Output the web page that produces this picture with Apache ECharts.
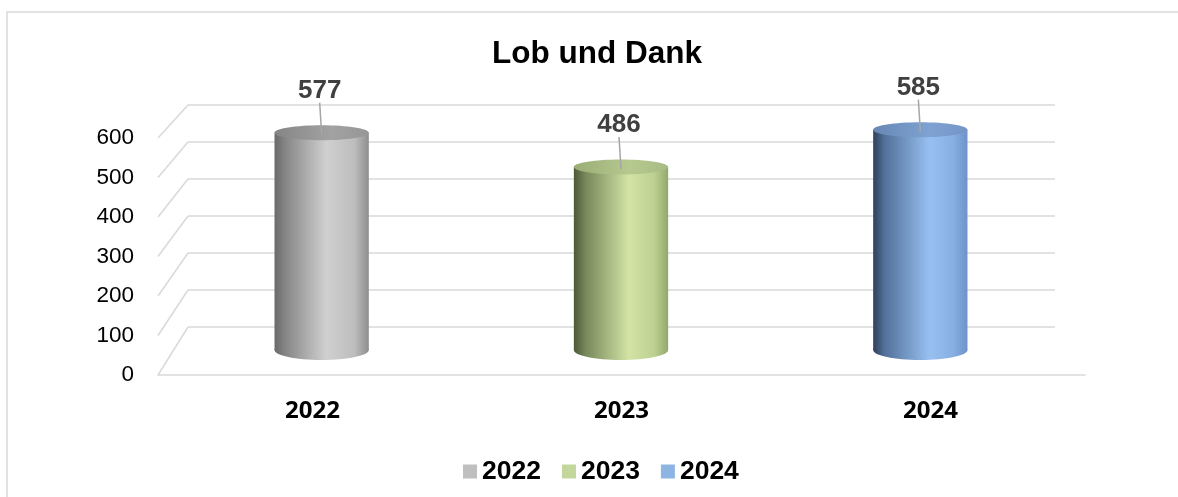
<!DOCTYPE html>
<html>
<head>
<meta charset="utf-8">
<script src="https://cdn.jsdelivr.net/npm/echarts@6/dist/echarts.min.js"></script>
<style>html,body{margin:0;padding:0;background:#fff}#c{width:1178px;height:497px}</style>
</head>
<body>
<div id="c"></div>
<script>
const categories = ['2022', '2023', '2024'];
const values = [577, 486, 585];
const yTicks = [0, 100, 200, 300, 400, 500, 600];
const titleText = 'Lob und Dank';

const legendColors = ['#bfbfbf', '#c3d69b', '#8eb4e3'];
const sideStops = [
  [[0, '#6a6a6a'], [0.12, '#878787'], [0.55, '#d0d0d0'], [0.85, '#bdbdbd'], [1, '#8e8e8e']],
  [[0, '#4b5837'], [0.12, '#76875a'], [0.58, '#d2e3a5'], [0.85, '#bdd192'], [1, '#93a86c']],
  [[0, '#2f4058'], [0.12, '#52709a'], [0.6, '#97c0f1'], [0.85, '#88afe3'], [1, '#6d93c8']]
];
const topStops = [
  [[0, '#858585'], [0.6, '#a2a2a2'], [1, '#969696']],
  [[0, '#9aad76'], [0.6, '#b6c98f'], [1, '#a8bb83']],
  [[0, '#6788b4'], [0.6, '#7fa2d2'], [1, '#7396c6']]
];
const FONT = '"Liberation Sans", Arial, sans-serif';

const chart = echarts.init(document.getElementById('c'), null, {renderer: 'canvas'});

function grad(stops) {
  return new echarts.graphic.LinearGradient(0, 0, 1, 0, stops.map(s => ({offset: s[0], color: s[1]})));
}

function renderWall(params, api) {
  const v = api.value(0);
  const back = api.coord([0, v]);
  const bx = params.coordSys.x;
  const f0 = chart.convertToPixel({gridIndex: 0}, [0, v]);
  const f1 = chart.convertToPixel({gridIndex: 0}, [1, v]);
  if (!f0 || !f1) return;
  const fx = f0[0] - (f1[0] - f0[0]) / 2;
  return {
    type: 'line',
    shape: {x1: bx, y1: back[1], x2: fx, y2: f0[1]},
    style: {stroke: '#d9d9d9', lineWidth: 1.5}
  };
}

function renderCylinder(params, api) {
  const i = api.value(0);
  const v = api.value(1);
  const top = api.coord([i, v]);
  const base = api.coord([i, 0]);
  const w = api.size([1, 0])[0] * 0.315;
  const rx = w / 2;
  const ryTop = 7.5, ryBot = 10;
  const x0 = top[0] - rx;
  return {
    type: 'group',
    children: [
      {type: 'ellipse', shape: {cx: base[0], cy: base[1], rx: rx, ry: ryBot}, style: {fill: grad(sideStops[i])}},
      {type: 'rect', shape: {x: x0, y: top[1], width: w, height: base[1] - top[1]}, style: {fill: grad(sideStops[i])}},
      {type: 'ellipse', shape: {cx: top[0], cy: top[1], rx: rx, ry: ryTop}, style: {fill: grad(topStops[i])}},
      {type: 'line', shape: {x1: top[0] - 2, y1: top[1] - 30, x2: top[0], y2: top[1] + 2}, style: {stroke: '#a6a6a6', lineWidth: 1.5}},
      {type: 'text', x: top[0] - 2, y: top[1] - 42,
        style: {text: String(v), fill: '#404040', font: 'bold 26px ' + FONT, align: 'center', verticalAlign: 'middle'}}
    ]
  };
}

const cylSeries = categories.map((c, i) => ({
  type: 'custom',
  name: c,
  xAxisIndex: 2, yAxisIndex: 2,
  itemStyle: {color: legendColors[i]},
  renderItem: renderCylinder,
  data: [[i, values[i]]],
  z: 5
}));

const option = {
  animation: false,
  backgroundColor: '#fff',
  title: {
    text: titleText, left: 492, top: 38, padding: 0,
    textStyle: {fontFamily: FONT, fontWeight: 'bold', fontSize: 31.5, color: '#000'}
  },
  legend: {
    data: categories, left: 463, top: 458, padding: 0, icon: 'rect',
    itemWidth: 14, itemHeight: 14, itemGap: 21, selectedMode: false,
    textStyle: {fontFamily: FONT, fontWeight: 'bold', fontSize: 26.5, color: '#000'}
  },
  graphic: [{
    type: 'rect', shape: {x: 7, y: 12, width: 1300, height: 700},
    style: {fill: 'none', stroke: '#d9d9d9', lineWidth: 1.5}, silent: true, z: -10
  }],
  grid: [
    {left: 158, right: 93, top: 138, bottom: 122},
    {left: 188, right: 123, top: 105, bottom: 170},
    {left: 172, right: 108, top: 124, bottom: 147}
  ],
  xAxis: [
    {type: 'category', gridIndex: 0, data: categories,
      axisLine: {show: true, lineStyle: {color: '#d9d9d9', width: 1.5}},
      axisTick: {show: false},
      axisLabel: {margin: 24, color: '#000', fontFamily: '"Open Sans", sans-serif', fontWeight: 'bold', fontSize: 24}},
    {type: 'category', gridIndex: 1, data: categories, show: false},
    {type: 'category', gridIndex: 2, data: categories, show: false}
  ],
  yAxis: [
    {type: 'value', gridIndex: 0, min: 0, max: 600, interval: 100,
      axisLine: {show: false}, axisTick: {show: false}, splitLine: {show: false},
      axisLabel: {margin: 24, color: '#000', fontFamily: FONT, fontSize: 22.5}},
    {type: 'value', gridIndex: 1, min: 0, max: 600, interval: 100,
      axisLine: {show: false}, axisTick: {show: false}, axisLabel: {show: false},
      splitLine: {show: true, lineStyle: {color: '#d9d9d9', width: 1.5}}},
    {type: 'value', gridIndex: 2, min: 0, max: 600, interval: 100, show: false}
  ],
  series: [
    {type: 'custom', xAxisIndex: 1, yAxisIndex: 1, renderItem: renderWall,
      data: yTicks.map(t => [t]), silent: true, z: 1}
  ].concat(cylSeries)
};
chart.setOption(option);
chart.setOption({series: option.series});
</script>
</body>
</html>
